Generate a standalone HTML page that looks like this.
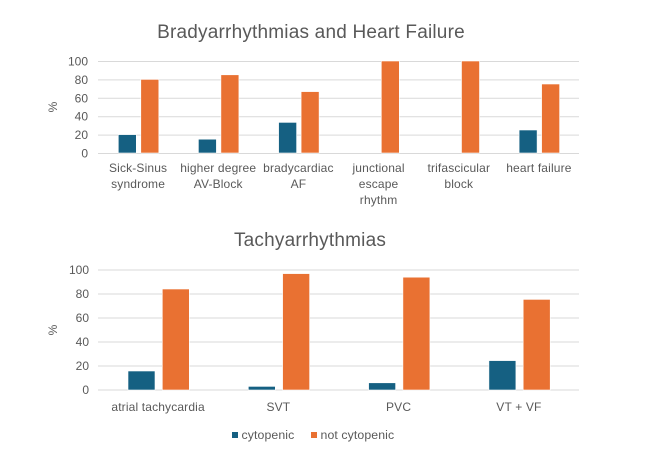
<!DOCTYPE html>
<html><head><meta charset="utf-8"><style>
html,body{margin:0;padding:0;background:#fff;}
svg{display:block;}
text{font-family:"Liberation Sans",Arial,sans-serif;fill:#595959;}
</style></head><body>
<svg width="656" height="462" viewBox="0 0 656 462" xmlns="http://www.w3.org/2000/svg">
<rect width="656" height="462" fill="#fff"/>
<!-- Top chart -->
<text x="311" y="38" font-size="19" letter-spacing="0.2" text-anchor="middle">Bradyarrhythmias and Heart Failure</text>
<g stroke="#d9d9d9" stroke-width="1">
<line x1="98" x2="579" y1="61.5" y2="61.5"/>
<line x1="98" x2="579" y1="79.9" y2="79.9"/>
<line x1="98" x2="579" y1="98.3" y2="98.3"/>
<line x1="98" x2="579" y1="116.7" y2="116.7"/>
<line x1="98" x2="579" y1="135.1" y2="135.1"/>
<line x1="98" x2="579" y1="153.5" y2="153.5"/>
</g>
<g font-size="12" text-anchor="end">
<text x="88" y="65.5">100</text>
<text x="88" y="83.9">80</text>
<text x="88" y="102.3">60</text>
<text x="88" y="120.7">40</text>
<text x="88" y="139.1">20</text>
<text x="88" y="157.5">0</text>
</g>
<text transform="translate(57,107) rotate(-90)" font-size="12" text-anchor="middle">%</text>
<g stroke="#fff" stroke-width="0.6">
<rect x="118.3" y="134.6" width="18" height="18.4" fill="#156082"/>
<rect x="140.8" y="79.4" width="18" height="73.6" fill="#E97132"/>
<rect x="198.4" y="139.2" width="18" height="13.8" fill="#156082"/>
<rect x="220.9" y="74.8" width="18" height="78.2" fill="#E97132"/>
<rect x="278.6" y="122.4" width="18" height="30.6" fill="#156082"/>
<rect x="301.1" y="91.6" width="18" height="61.4" fill="#E97132"/>
<rect x="381.3" y="61" width="18" height="92" fill="#E97132"/>
<rect x="461.5" y="61" width="18" height="92" fill="#E97132"/>
<rect x="519.1" y="130" width="18" height="23" fill="#156082"/>
<rect x="541.6" y="84" width="18" height="69" fill="#E97132"/>
</g>
<g font-size="12" letter-spacing="0.15" text-anchor="middle">
<text x="138.1" y="172">Sick-Sinus</text>
<text x="138.1" y="188">syndrome</text>
<text x="218.2" y="172">higher degree</text>
<text x="218.2" y="188">AV-Block</text>
<text x="298.4" y="172">bradycardiac</text>
<text x="298.4" y="188">AF</text>
<text x="378.6" y="172">junctional</text>
<text x="378.6" y="188">escape</text>
<text x="378.6" y="204">rhythm</text>
<text x="458.8" y="172">trifascicular</text>
<text x="458.8" y="188">block</text>
<text x="538.9" y="172">heart failure</text>
</g>

<!-- Bottom chart -->
<text x="310" y="246" font-size="19" letter-spacing="0.2" text-anchor="middle">Tachyarrhythmias</text>
<g stroke="#d9d9d9" stroke-width="1">
<line x1="98" x2="579" y1="270" y2="270"/>
<line x1="98" x2="579" y1="294" y2="294"/>
<line x1="98" x2="579" y1="318" y2="318"/>
<line x1="98" x2="579" y1="342" y2="342"/>
<line x1="98" x2="579" y1="366" y2="366"/>
<line x1="98" x2="579" y1="390" y2="390"/>
</g>
<g font-size="12" text-anchor="end">
<text x="89" y="274">100</text>
<text x="89" y="298">80</text>
<text x="89" y="322">60</text>
<text x="89" y="346">40</text>
<text x="89" y="370">20</text>
<text x="89" y="394">0</text>
</g>
<text transform="translate(57,330) rotate(-90)" font-size="12" text-anchor="middle">%</text>
<g stroke="#fff" stroke-width="0.6">
<rect x="128" y="371" width="27" height="19" fill="#156082"/>
<rect x="162.3" y="289" width="27" height="101" fill="#E97132"/>
<rect x="248.3" y="386.4" width="27" height="3.6" fill="#156082"/>
<rect x="282.6" y="273.6" width="27" height="116.4" fill="#E97132"/>
<rect x="368.6" y="382.8" width="27" height="7.2" fill="#156082"/>
<rect x="402.9" y="277.2" width="27" height="112.8" fill="#E97132"/>
<rect x="488.9" y="360.6" width="27" height="29.4" fill="#156082"/>
<rect x="523.2" y="299.4" width="27" height="90.6" fill="#E97132"/>
</g>
<g font-size="12" letter-spacing="0.15" text-anchor="middle">
<text x="158.1" y="411">atrial tachycardia</text>
<text x="278.4" y="411">SVT</text>
<text x="398.6" y="411">PVC</text>
<text x="518.9" y="411">VT + VF</text>
</g>

<!-- Legend -->
<rect x="232" y="432" width="6" height="6" fill="#156082"/>
<text x="241.5" y="439" font-size="12.3" letter-spacing="0.1">cytopenic</text>
<rect x="311" y="432" width="6" height="6" fill="#E97132"/>
<text x="320.5" y="439" font-size="12.3" letter-spacing="0.1">not cytopenic</text>
</svg>
</body></html>
